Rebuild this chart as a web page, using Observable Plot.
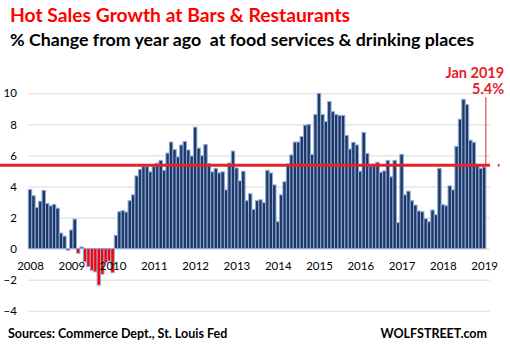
<!DOCTYPE html>
<html>
<head>
<meta charset="utf-8">
<script src="https://cdn.jsdelivr.net/npm/d3@7"></script>
<script src="https://cdn.jsdelivr.net/npm/@observablehq/plot@0.6"></script>
<style>
  body { margin: 0; background: #fff; font-family: Lato, "Noto Sans", sans-serif; }
  #wrap { position: relative; width: 510px; height: 352px; overflow: hidden; background: #fff; }
  #head { position: relative; height: 56px; }
  #head .title { position: absolute; left: 10px; top: 5px; font-size: 19.3px; font-weight: bold; color: #ff0000; line-height: 1; white-space: nowrap; }
  #head .sub { position: absolute; left: 10px; top: 31px; font-size: 17.8px; font-weight: bold; color: #000; line-height: 1; white-space: nowrap; }
  #chart { height: 262px; }
  #chart svg { display: block; }
  #foot { position: relative; height: 34px; }
  #foot .src { position: absolute; left: 8px; top: 10px; font-size: 12.5px; font-weight: bold; color: #000; line-height: 1; white-space: nowrap; }
  #foot .brand { position: absolute; right: 23px; top: 10px; font-size: 12.5px; font-weight: bold; color: #000; line-height: 1; white-space: nowrap; }
</style>
</head>
<body>
<div id="wrap">
  <div id="head">
    <div class="title">Hot Sales Growth at Bars &amp; Restaurants</div>
    <div class="sub">% Change from year ago&nbsp; at food services &amp; drinking places</div>
  </div>
  <div id="chart"></div>
  <div id="foot">
    <div class="src">Sources: Commerce Dept., St. Louis Fed</div>
    <div class="brand">WOLFSTREET.com</div>
  </div>
</div>
<script>
// Year labels (category axis, one per January)
const yearLabels = ["2008","2009","2010","2011","2012","2013","2014","2015","2016","2017","2018","2019"];
// Monthly % change from year ago, Jan 2008 .. Jan 2019
const values = [
  3.8, 3.4, 2.65, 3.05, 3.75, 2.9, 2.75, 2.85, 2.6, 1.0, 0.8, -0.1,
  1.2, 1.9, -0.3, 0.1, -0.85, -1.15, -1.4, -1.5, -2.35, -1.65, -0.9, -0.8,
  -1.55, 0.85, 2.37, 2.44, 2.35, 3.08, 3.46, 4.68, 5.1, 5.28, 5.28, 4.94,
  5.28, 5.5, 5.68, 5.04, 6.15, 6.86, 6.37, 5.9, 6.67, 6.9, 6.35, 5.96,
  7.82, 6.47, 5.98, 6.7, 5.49, 4.94, 5.17, 4.87, 4.94, 3.78, 5.51, 6.28,
  5.19, 4.36, 4.98, 3.08, 3.53, 2.52, 3.08, 3.14, 2.95, 5.04, 4.87, 4.1,
  1.73, 3.46, 4.3, 5.45, 6.03, 6.86, 6.86, 7.22, 7.95, 8.0, 6.07, 8.63,
  10.0, 8.63, 8.18, 9.47, 8.82, 8.63, 8.57, 8.57, 7.29, 6.41, 6.84, 6.67,
  4.98, 7.48, 6.13, 5.3, 5.43, 5.56, 4.91, 5.0, 5.68, 4.62, 5.68, 1.67,
  6.07, 3.46, 3.7, 3.08, 2.8, 2.42, 2.37, 1.92, 1.73, 2.48, 2.18, 5.17,
  2.82, 2.76, 4.04, 3.78, 6.58, 8.33, 9.61, 9.27, 6.98, 6.84, 5.43, 5.17,
  5.25
];
const yTicks = [-4, -2, 0, 2, 4, 6, 8, 10];
const latestLabel = "Jan 2019";
const latestText = "5.4%";
const latestValue = 5.4;

const RED = "#e8202a";
const data = values.map((v, i) => ({i, v}));
const lastIdx = values.length - 1;

const chart = Plot.plot({
  width: 510,
  height: 262,
  marginLeft: 28.3,
  marginRight: 20,
  marginTop: 37.3,
  marginBottom: 7.3,
  x: {domain: [0, 134.2], axis: null},
  y: {domain: [-4, 10], axis: null},
  style: {fontFamily: "Lato, 'Noto Sans', sans-serif", color: "#000", background: "#fff"},
  marks: [
    Plot.gridY(yTicks, {stroke: "#d9d9d9", strokeOpacity: 1, strokeWidth: 1}),
    Plot.axisY(yTicks, {tickSize: 0, tickPadding: 12, fontSize: 11.5, fill: "#000", label: null}),
    Plot.rectY(data.filter(d => d.v >= 0), {x1: "i", x2: d => d.i + 1, y1: 0, y2: "v", fill: "#1f3864", stroke: "#8faadc", strokeWidth: 1}),
    Plot.rectY(data.filter(d => d.v < 0), {x1: "i", x2: d => d.i + 1, y1: 0, y2: "v", fill: "#ff0000", stroke: "#8faadc", strokeWidth: 1}),
    Plot.text(yearLabels, {x: (d, k) => k * 12 + 0.5, y: 0, dy: 17.7, fontSize: 11.5, fill: "#000"}),
    Plot.ruleY([latestValue], {stroke: RED, strokeWidth: 3.2, insetLeft: -28.3}),
    Plot.ruleY([latestValue], {stroke: RED, strokeWidth: 2.5, insetLeft: 469.5, insetRight: -9.5}),
    Plot.ruleX([lastIdx + 0.85], {y1: latestValue, y2: 9.75, stroke: RED, strokeWidth: 1}),
    Plot.text([`${latestLabel}\n${latestText}`], {x: lastIdx + 0.5, y: 10.83, textAnchor: "end", dx: 19.5, lineAnchor: "middle", lineHeight: 1.1, fontWeight: "bold", fontSize: 14.5, fill: RED})
  ]
});
document.getElementById("chart").appendChild(chart);
</script>
</body>
</html>
